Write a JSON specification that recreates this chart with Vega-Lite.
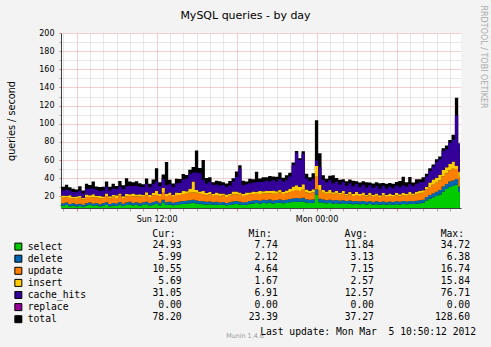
{
  "$schema": "https://vega.github.io/schema/vega-lite/v6.json",
  "autosize": {"type": "none"},
  "padding": {"left": 61, "top": 33, "right": 430, "bottom": 314},
  "background": "#f3f3f3",
  "config": {"font": "DejaVu Sans", "view": {"stroke": null}},
  "bounds": "flush",
  "spacing": 37,
  "title": {"text": "Munin 1.4.6", "orient": "bottom", "anchor": "start", "align": "center", "frame": "group", "dx": 184, "offset": -3, "baseline": "top", "font": "DejaVu Sans", "fontSize": 6.4, "fontWeight": "normal", "color": "#999999"},
  "datasets": {
    "q": [
      {"t":"2012-03-04T04:45:00Z","select":10.2,"delete":2.6,"update":6.0,"insert":1.9,"cache_hits":6.0,"total":31.5},
      {"t":"2012-03-04T05:00:00Z","select":9.6,"delete":2.5,"update":6.4,"insert":2.4,"cache_hits":5.6,"total":30.6},
      {"t":"2012-03-04T05:15:00Z","select":10.5,"delete":2.7,"update":5.8,"insert":1.8,"cache_hits":6.5,"total":32.8},
      {"t":"2012-03-04T05:30:00Z","select":9.1,"delete":2.4,"update":6.7,"insert":3.0,"cache_hits":5.4,"total":30.1},
      {"t":"2012-03-04T05:45:00Z","select":9.8,"delete":2.6,"update":5.6,"insert":1.7,"cache_hits":5.0,"total":28.4},
      {"t":"2012-03-04T06:00:00Z","select":8.9,"delete":2.3,"update":6.2,"insert":2.6,"cache_hits":4.6,"total":27.5},
      {"t":"2012-03-04T06:15:00Z","select":9.4,"delete":2.5,"update":6.6,"insert":2.0,"cache_hits":5.8,"total":31.2},
      {"t":"2012-03-04T06:30:00Z","select":8.6,"delete":2.2,"update":5.7,"insert":1.8,"cache_hits":4.9,"total":26.4},
      {"t":"2012-03-04T06:45:00Z","select":9.9,"delete":2.6,"update":6.9,"insert":2.8,"cache_hits":6.1,"total":33.8},
      {"t":"2012-03-04T07:00:00Z","select":10.4,"delete":2.8,"update":6.0,"insert":2.1,"cache_hits":7.0,"total":32.6},
      {"t":"2012-03-04T07:15:00Z","select":9.3,"delete":2.5,"update":7.1,"insert":3.4,"cache_hits":6.3,"total":36.5},
      {"t":"2012-03-04T07:30:00Z","select":10.1,"delete":2.7,"update":5.9,"insert":1.9,"cache_hits":6.8,"total":30.9},
      {"t":"2012-03-04T07:45:00Z","select":9.0,"delete":2.4,"update":6.4,"insert":2.5,"cache_hits":5.6,"total":30.4},
      {"t":"2012-03-04T08:00:00Z","select":9.7,"delete":2.6,"update":5.8,"insert":1.8,"cache_hits":6.6,"total":30.6},
      {"t":"2012-03-04T08:15:00Z","select":10.6,"delete":2.8,"update":6.9,"insert":2.9,"cache_hits":7.0,"total":36.4},
      {"t":"2012-03-04T08:30:00Z","select":9.2,"delete":2.5,"update":6.2,"insert":2.2,"cache_hits":6.3,"total":30.6},
      {"t":"2012-03-04T08:45:00Z","select":10.0,"delete":2.7,"update":6.8,"insert":1.9,"cache_hits":7.4,"total":34.0},
      {"t":"2012-03-04T09:00:00Z","select":9.5,"delete":2.6,"update":6.0,"insert":3.1,"cache_hits":6.9,"total":31.4},
      {"t":"2012-03-04T09:15:00Z","select":10.8,"delete":2.9,"update":7.2,"insert":2.3,"cache_hits":7.8,"total":37.0},
      {"t":"2012-03-04T09:30:00Z","select":9.3,"delete":2.5,"update":6.5,"insert":1.8,"cache_hits":8.1,"total":32.2},
      {"t":"2012-03-04T09:45:00Z","select":10.4,"delete":2.8,"update":6.8,"insert":2.7,"cache_hits":8.5,"total":40.0},
      {"t":"2012-03-04T10:00:00Z","select":11.0,"delete":3.0,"update":6.3,"insert":2.1,"cache_hits":9.0,"total":36.4},
      {"t":"2012-03-04T10:15:00Z","select":10.1,"delete":2.7,"update":7.2,"insert":3.2,"cache_hits":8.3,"total":35.5},
      {"t":"2012-03-04T10:30:00Z","select":10.7,"delete":2.9,"update":6.6,"insert":2.0,"cache_hits":9.4,"total":36.6},
      {"t":"2012-03-04T10:45:00Z","select":9.8,"delete":2.6,"update":7.4,"insert":2.6,"cache_hits":8.0,"total":34.4},
      {"t":"2012-03-04T11:00:00Z","select":10.5,"delete":2.8,"update":6.4,"insert":1.9,"cache_hits":8.8,"total":33.4},
      {"t":"2012-03-04T11:15:00Z","select":11.2,"delete":3.0,"update":7.0,"insert":3.3,"cache_hits":9.2,"total":39.7},
      {"t":"2012-03-04T11:30:00Z","select":10.0,"delete":2.7,"update":6.7,"insert":2.2,"cache_hits":8.4,"total":34.0},
      {"t":"2012-03-04T11:45:00Z","select":10.9,"delete":2.9,"update":7.5,"insert":2.8,"cache_hits":9.6,"total":38.7},
      {"t":"2012-03-04T12:00:00Z","select":11.5,"delete":3.1,"update":7.0,"insert":4.6,"cache_hits":10.2,"total":51.0},
      {"t":"2012-03-04T12:15:00Z","select":10.3,"delete":2.8,"update":7.3,"insert":2.1,"cache_hits":9.0,"total":35.5},
      {"t":"2012-03-04T12:30:00Z","select":12.8,"delete":3.4,"update":7.9,"insert":5.2,"cache_hits":9.5,"total":44.0},
      {"t":"2012-03-04T12:45:00Z","select":10.6,"delete":2.9,"update":6.8,"insert":2.4,"cache_hits":9.8,"total":58.0},
      {"t":"2012-03-04T13:00:00Z","select":11.0,"delete":3.0,"update":7.4,"insert":2.9,"cache_hits":9.1,"total":38.4},
      {"t":"2012-03-04T13:15:00Z","select":10.2,"delete":2.8,"update":6.6,"insert":2.0,"cache_hits":8.7,"total":34.3},
      {"t":"2012-03-04T13:30:00Z","select":10.8,"delete":2.9,"update":7.7,"insert":3.0,"cache_hits":9.9,"total":39.3},
      {"t":"2012-03-04T13:45:00Z","select":11.3,"delete":3.1,"update":7.2,"insert":2.5,"cache_hits":11.0,"total":39.1},
      {"t":"2012-03-04T14:00:00Z","select":11.6,"delete":3.2,"update":7.8,"insert":3.6,"cache_hits":12.5,"total":44.7},
      {"t":"2012-03-04T14:15:00Z","select":12.0,"delete":3.3,"update":7.5,"insert":2.8,"cache_hits":14.0,"total":43.6},
      {"t":"2012-03-04T14:30:00Z","select":12.4,"delete":3.4,"update":8.3,"insert":4.2,"cache_hits":16.0,"total":49.3},
      {"t":"2012-03-04T14:45:00Z","select":12.9,"delete":3.5,"update":8.0,"insert":12.0,"cache_hits":10.0,"total":52.4},
      {"t":"2012-03-04T15:00:00Z","select":12.1,"delete":3.3,"update":8.5,"insert":3.1,"cache_hits":19.3,"total":70.5},
      {"t":"2012-03-04T15:15:00Z","select":11.8,"delete":3.2,"update":7.8,"insert":2.7,"cache_hits":19.9,"total":51.4},
      {"t":"2012-03-04T15:30:00Z","select":11.4,"delete":3.1,"update":8.1,"insert":3.3,"cache_hits":12.5,"total":60.0},
      {"t":"2012-03-04T15:45:00Z","select":11.0,"delete":3.0,"update":7.3,"insert":2.4,"cache_hits":10.6,"total":40.3},
      {"t":"2012-03-04T16:00:00Z","select":11.3,"delete":3.1,"update":7.6,"insert":2.9,"cache_hits":11.2,"total":41.1},
      {"t":"2012-03-04T16:15:00Z","select":10.7,"delete":2.9,"update":7.0,"insert":2.1,"cache_hits":9.8,"total":35.5},
      {"t":"2012-03-04T16:30:00Z","select":11.0,"delete":3.0,"update":7.6,"insert":2.6,"cache_hits":9.0,"total":37.2},
      {"t":"2012-03-04T16:45:00Z","select":10.4,"delete":2.8,"update":6.8,"insert":3.1,"cache_hits":8.6,"total":36.7},
      {"t":"2012-03-04T17:00:00Z","select":10.9,"delete":3.0,"update":7.4,"insert":2.0,"cache_hits":9.3,"total":35.6},
      {"t":"2012-03-04T17:15:00Z","select":10.1,"delete":2.7,"update":6.6,"insert":2.7,"cache_hits":8.2,"total":34.3},
      {"t":"2012-03-04T17:30:00Z","select":10.6,"delete":2.9,"update":7.2,"insert":2.3,"cache_hits":8.9,"total":36.9},
      {"t":"2012-03-04T17:45:00Z","select":11.2,"delete":3.1,"update":7.8,"insert":3.4,"cache_hits":10.5,"total":40.0},
      {"t":"2012-03-04T18:00:00Z","select":11.7,"delete":3.2,"update":7.5,"insert":2.9,"cache_hits":16.0,"total":47.3},
      {"t":"2012-03-04T18:15:00Z","select":11.0,"delete":3.0,"update":7.9,"insert":2.5,"cache_hits":26.0,"total":54.4},
      {"t":"2012-03-04T18:30:00Z","select":10.5,"delete":2.8,"update":7.1,"insert":2.2,"cache_hits":9.6,"total":37.2},
      {"t":"2012-03-04T18:45:00Z","select":10.9,"delete":3.0,"update":7.5,"insert":3.0,"cache_hits":9.0,"total":36.4},
      {"t":"2012-03-04T19:00:00Z","select":11.8,"delete":3.2,"update":6.9,"insert":2.4,"cache_hits":10.2,"total":39.5},
      {"t":"2012-03-04T19:15:00Z","select":12.2,"delete":3.3,"update":7.2,"insert":2.8,"cache_hits":9.4,"total":38.9},
      {"t":"2012-03-04T19:30:00Z","select":12.6,"delete":3.4,"update":7.0,"insert":2.1,"cache_hits":10.8,"total":47.0},
      {"t":"2012-03-04T19:45:00Z","select":12.0,"delete":3.3,"update":7.4,"insert":3.2,"cache_hits":9.9,"total":39.8},
      {"t":"2012-03-04T20:00:00Z","select":12.8,"delete":3.5,"update":6.8,"insert":2.5,"cache_hits":10.4,"total":41.0},
      {"t":"2012-03-04T20:15:00Z","select":12.4,"delete":3.4,"update":7.3,"insert":2.9,"cache_hits":11.1,"total":41.1},
      {"t":"2012-03-04T20:30:00Z","select":13.0,"delete":3.6,"update":6.9,"insert":2.3,"cache_hits":10.6,"total":42.4},
      {"t":"2012-03-04T20:45:00Z","select":12.2,"delete":3.3,"update":7.5,"insert":3.5,"cache_hits":11.5,"total":42.0},
      {"t":"2012-03-04T21:00:00Z","select":12.6,"delete":3.4,"update":7.0,"insert":2.6,"cache_hits":10.9,"total":41.5},
      {"t":"2012-03-04T21:15:00Z","select":13.1,"delete":3.6,"update":7.6,"insert":2.9,"cache_hits":12.0,"total":46.2},
      {"t":"2012-03-04T21:30:00Z","select":12.3,"delete":3.4,"update":6.9,"insert":2.4,"cache_hits":11.4,"total":40.4},
      {"t":"2012-03-04T21:45:00Z","select":12.7,"delete":3.5,"update":7.2,"insert":3.0,"cache_hits":11.8,"total":43.2},
      {"t":"2012-03-04T22:00:00Z","select":13.4,"delete":3.7,"update":7.8,"insert":3.6,"cache_hits":13.5,"total":46.0},
      {"t":"2012-03-04T22:15:00Z","select":13.8,"delete":3.8,"update":8.4,"insert":4.8,"cache_hits":23.6,"total":57.4},
      {"t":"2012-03-04T22:30:00Z","select":14.2,"delete":3.9,"update":8.8,"insert":5.5,"cache_hits":35.6,"total":70.0},
      {"t":"2012-03-04T22:45:00Z","select":13.9,"delete":3.8,"update":8.2,"insert":4.4,"cache_hits":29.7,"total":62.0},
      {"t":"2012-03-04T23:00:00Z","select":14.4,"delete":4.0,"update":9.0,"insert":6.0,"cache_hits":33.6,"total":69.6},
      {"t":"2012-03-04T23:15:00Z","select":13.2,"delete":3.6,"update":7.6,"insert":3.2,"cache_hits":12.2,"total":44.8},
      {"t":"2012-03-04T23:30:00Z","select":12.7,"delete":3.5,"update":7.3,"insert":2.7,"cache_hits":10.8,"total":41.0},
      {"t":"2012-03-04T23:45:00Z","select":13.1,"delete":3.6,"update":7.8,"insert":3.4,"cache_hits":11.6,"total":45.5},
      {"t":"2012-03-05T00:00:00Z","select":22.0,"delete":5.5,"update":14.0,"insert":12.0,"cache_hits":6.0,"total":104.0},
      {"t":"2012-03-05T00:15:00Z","select":13.5,"delete":3.9,"update":9.6,"insert":5.5,"cache_hits":20.0,"total":67.5},
      {"t":"2012-03-05T00:30:00Z","select":13.0,"delete":3.6,"update":7.4,"insert":3.0,"cache_hits":11.4,"total":43.4},
      {"t":"2012-03-05T00:45:00Z","select":12.4,"delete":3.4,"update":7.0,"insert":2.5,"cache_hits":10.2,"total":39.5},
      {"t":"2012-03-05T01:00:00Z","select":12.8,"delete":3.5,"update":7.5,"insert":3.1,"cache_hits":10.9,"total":42.8},
      {"t":"2012-03-05T01:15:00Z","select":12.2,"delete":3.3,"update":6.8,"insert":2.2,"cache_hits":9.7,"total":43.2},
      {"t":"2012-03-05T01:30:00Z","select":12.5,"delete":3.4,"update":7.2,"insert":2.8,"cache_hits":10.4,"total":40.3},
      {"t":"2012-03-05T01:45:00Z","select":11.9,"delete":3.3,"update":6.5,"insert":2.4,"cache_hits":9.1,"total":38.2},
      {"t":"2012-03-05T02:00:00Z","select":12.3,"delete":3.4,"update":7.1,"insert":3.0,"cache_hits":10.0,"total":38.8},
      {"t":"2012-03-05T02:15:00Z","select":11.6,"delete":3.2,"update":6.2,"insert":2.0,"cache_hits":8.7,"total":36.7},
      {"t":"2012-03-05T02:30:00Z","select":12.1,"delete":3.3,"update":6.9,"insert":2.7,"cache_hits":9.5,"total":38.5},
      {"t":"2012-03-05T02:45:00Z","select":11.4,"delete":3.1,"update":6.0,"insert":2.3,"cache_hits":8.3,"total":37.1},
      {"t":"2012-03-05T03:00:00Z","select":11.8,"delete":3.2,"update":6.6,"insert":3.2,"cache_hits":9.0,"total":36.8},
      {"t":"2012-03-05T03:15:00Z","select":11.2,"delete":3.1,"update":6.1,"insert":2.1,"cache_hits":7.8,"total":35.3},
      {"t":"2012-03-05T03:30:00Z","select":11.7,"delete":3.2,"update":6.7,"insert":2.6,"cache_hits":8.6,"total":36.8},
      {"t":"2012-03-05T03:45:00Z","select":11.0,"delete":3.0,"update":5.8,"insert":2.0,"cache_hits":7.7,"total":35.5},
      {"t":"2012-03-05T04:00:00Z","select":11.5,"delete":3.2,"update":6.4,"insert":2.9,"cache_hits":8.3,"total":35.3},
      {"t":"2012-03-05T04:15:00Z","select":10.9,"delete":3.0,"update":5.7,"insert":2.2,"cache_hits":7.4,"total":34.2},
      {"t":"2012-03-05T04:30:00Z","select":11.4,"delete":3.1,"update":6.3,"insert":2.5,"cache_hits":8.2,"total":35.5},
      {"t":"2012-03-05T04:45:00Z","select":10.8,"delete":3.0,"update":5.6,"insert":1.9,"cache_hits":7.2,"total":34.5},
      {"t":"2012-03-05T05:00:00Z","select":11.3,"delete":3.1,"update":6.5,"insert":2.8,"cache_hits":8.0,"total":34.7},
      {"t":"2012-03-05T05:15:00Z","select":10.7,"delete":2.9,"update":5.9,"insert":2.1,"cache_hits":7.2,"total":33.8},
      {"t":"2012-03-05T05:30:00Z","select":11.2,"delete":3.1,"update":6.2,"insert":2.6,"cache_hits":7.7,"total":34.8},
      {"t":"2012-03-05T05:45:00Z","select":10.9,"delete":3.0,"update":5.8,"insert":2.0,"cache_hits":7.3,"total":34.0},
      {"t":"2012-03-05T06:00:00Z","select":11.4,"delete":3.1,"update":6.4,"insert":2.9,"cache_hits":8.1,"total":35.9},
      {"t":"2012-03-05T06:15:00Z","select":11.1,"delete":3.0,"update":6.0,"insert":2.3,"cache_hits":7.6,"total":37.0},
      {"t":"2012-03-05T06:30:00Z","select":11.6,"delete":3.2,"update":6.6,"insert":2.7,"cache_hits":8.3,"total":41.7},
      {"t":"2012-03-05T06:45:00Z","select":11.3,"delete":3.1,"update":6.2,"insert":2.2,"cache_hits":7.9,"total":35.7},
      {"t":"2012-03-05T07:00:00Z","select":11.8,"delete":3.2,"update":6.8,"insert":3.1,"cache_hits":8.5,"total":41.4},
      {"t":"2012-03-05T07:15:00Z","select":11.5,"delete":3.1,"update":6.3,"insert":2.4,"cache_hits":8.1,"total":35.4},
      {"t":"2012-03-05T07:30:00Z","select":12.0,"delete":3.3,"update":7.0,"insert":2.8,"cache_hits":8.8,"total":38.9},
      {"t":"2012-03-05T07:45:00Z","select":12.5,"delete":3.3,"update":7.3,"insert":3.0,"cache_hits":9.5,"total":39.0},
      {"t":"2012-03-05T08:00:00Z","select":13.0,"delete":3.4,"update":7.6,"insert":2.8,"cache_hits":9.0,"total":41.0},
      {"t":"2012-03-05T08:15:00Z","select":15.5,"delete":3.8,"update":8.2,"insert":3.2,"cache_hits":11.3,"total":45.0},
      {"t":"2012-03-05T08:30:00Z","select":17.5,"delete":4.0,"update":8.8,"insert":5.0,"cache_hits":12.7,"total":51.0},
      {"t":"2012-03-05T08:45:00Z","select":19.0,"delete":4.3,"update":9.5,"insert":5.8,"cache_hits":14.4,"total":55.0},
      {"t":"2012-03-05T09:00:00Z","select":20.5,"delete":4.6,"update":10.0,"insert":5.5,"cache_hits":17.4,"total":61.0},
      {"t":"2012-03-05T09:15:00Z","select":22.0,"delete":4.9,"update":10.6,"insert":6.2,"cache_hits":17.3,"total":64.0},
      {"t":"2012-03-05T09:30:00Z","select":25.5,"delete":5.3,"update":11.5,"insert":6.8,"cache_hits":20.9,"total":73.0},
      {"t":"2012-03-05T09:45:00Z","select":28.0,"delete":5.6,"update":12.0,"insert":6.5,"cache_hits":19.9,"total":76.0},
      {"t":"2012-03-05T10:00:00Z","select":30.5,"delete":5.8,"update":12.5,"insert":7.0,"cache_hits":23.2,"total":82.0},
      {"t":"2012-03-05T10:15:00Z","select":31.5,"delete":6.0,"update":13.0,"insert":8.0,"cache_hits":23.5,"total":88.0},
      {"t":"2012-03-05T10:30:00Z","select":33.0,"delete":6.2,"update":11.0,"insert":3.5,"cache_hits":55.3,"total":128.6},
      {"t":"2012-03-05T10:45:00Z","select":24.93,"delete":5.99,"update":10.55,"insert":5.69,"cache_hits":31.05,"total":78.2}
    ],
    "tbl": [
      {"name":"select","Cur":"24.93","Min":"7.74","Avg":"11.84","Max":"34.72"},
      {"name":"delete","Cur":"5.99","Min":"2.12","Avg":"3.13","Max":"6.38"},
      {"name":"update","Cur":"10.55","Min":"4.64","Avg":"7.15","Max":"16.74"},
      {"name":"insert","Cur":"5.69","Min":"1.67","Avg":"2.57","Max":"15.84"},
      {"name":"cache_hits","Cur":"31.05","Min":"6.91","Avg":"12.57","Max":"76.71"},
      {"name":"replace","Cur":"0.00","Min":"0.00","Avg":"0.00","Max":"0.00"},
      {"name":"total","Cur":"78.20","Min":"23.39","Avg":"37.27","Max":"128.60"}
    ]
  },
  "vconcat": [
    {
      "width": 400,
      "height": 175,
      "view": {"fill": "white", "stroke": null},
      "title": {"text": "MySQL queries - by day", "anchor": "middle", "frame": "group", "dx": -15.5, "offset": -0.6, "baseline": "alphabetic", "font": "DejaVu Sans", "fontSize": 11, "fontWeight": "normal", "color": "black"},
      "data": {"name": "q"},
      "encoding": {
        "x": {
          "field": "t", "type": "temporal",
          "scale": {"type": "utc", "domain": [{"year": 2012, "month": 3, "date": 4, "hours": 4, "minutes": 50, "utc": true}, {"year": 2012, "month": 3, "date": 5, "hours": 10, "minutes": 50, "utc": true}]},
          "axis": {
            "title": null,
            "tickCount": 30,
            "labelExpr": "utchours(datum.value) % 12 === 0 ? utcFormat(datum.value, '%a %H:%M') : ''",
            "labelOverlap": false, "labelFlush": false,
            "grid": true,
            "gridColor": {"condition": {"test": "utchours(datum.value) % 6 === 0", "value": "#e8a0a0"}, "value": "#d0d0d0"},
            "gridDash": [1, 1], "gridOpacity": 1, "gridWidth": 1,
            "ticks": true,
            "tickColor": {"condition": {"test": "utchours(datum.value) % 6 === 0", "value": "#d08080"}, "value": "#aaaaaa"},
            "tickSize": 3,
            "domain": true, "domainColor": "#404040", "domainWidth": 1,
            "labelFont": "DejaVu Sans", "labelFontSize": 8, "labelColor": "black", "labelPadding": 4
          }
        },
        "y": {
          "type": "quantitative",
          "scale": {"domain": [7.2, 200], "zero": false, "nice": false},
          "axis": {
            "values": [10, 20, 30, 40, 50, 60, 70, 80, 90, 100, 110, 120, 130, 140, 150, 160, 170, 180, 190, 200],
            "labelExpr": "datum.value % 20 === 0 ? datum.label : ''",
            "grid": true,
            "gridColor": {"condition": {"test": "datum.value % 20 === 0", "value": "#e8a0a0"}, "value": "#d0d0d0"},
            "gridDash": [1, 1], "gridOpacity": 1, "gridWidth": 1,
            "ticks": true, "tickSize": 2,
            "tickColor": {"condition": {"test": "datum.value % 20 === 0", "value": "#d08080"}, "value": "#aaaaaa"},
            "domain": true, "domainColor": "#404040", "domainWidth": 1,
            "labelFont": "DejaVu Sans", "labelFontSize": 8, "labelColor": "black", "labelPadding": 5,
            "title": "queries / second",
            "titleFont": "DejaVu Sans", "titleFontSize": 9.7, "titleFontWeight": "normal", "titleColor": "black",
            "titleX": -49.8, "titleY": 87.5, "titleAngle": -90, "titleAlign": "center", "titleBaseline": "middle"
          }
        }
      },
      "layer": [
        {
          "mark": {"type": "area", "interpolate": "step", "clip": true, "color": "black"},
          "encoding": {"y": {"field": "total"}}
        },
        {
          "transform": [
            {"fold": ["select", "delete", "update", "insert", "cache_hits"], "as": ["key", "value"]},
            {"lookup": "key", "from": {"data": {"values": [{"key": "select", "rank": 0}, {"key": "delete", "rank": 1}, {"key": "update", "rank": 2}, {"key": "insert", "rank": 3}, {"key": "cache_hits", "rank": 4}]}, "key": "key", "fields": ["rank"]}}
          ],
          "mark": {"type": "area", "interpolate": "step", "clip": true},
          "encoding": {
            "y": {"field": "value", "stack": "zero"},
            "color": {
              "field": "key", "type": "nominal",
              "scale": {"domain": ["select", "delete", "update", "insert", "cache_hits", "replace", "total"], "range": ["#00cc00", "#0066b3", "#ff8000", "#ffcc00", "#330099", "#990099", "#000000"]},
              "legend": {
                "orient": "none", "legendX": -47.5, "legendY": 208.75, "title": null,
                "symbolType": "square", "symbolSize": 49,
                "symbolStrokeColor": "black", "symbolStrokeWidth": 1, "symbolOpacity": 1,
                "labelFont": "DejaVu Sans Mono", "labelFontSize": 9.7, "labelColor": "black", "labelOffset": 4.5, "labelLimit": 300,
                "rowPadding": 0.1, "padding": 0
              }
            },
            "order": {"field": "rank", "type": "quantitative"}
          }
        },
        {
          "data": {"values": [{}]},
          "mark": {"type": "point", "shape": "triangle-up", "filled": true, "size": 30, "color": "#8b1a1a", "opacity": 1, "yOffset": -3},
          "encoding": {
            "x": {"datum": {"year": 2012, "month": 3, "date": 4, "hours": 4, "minutes": 50, "utc": true}},
            "y": {"datum": 200}
          }
        },
        {
          "data": {"values": [{}]},
          "mark": {"type": "point", "shape": "triangle-right", "filled": true, "size": 30, "color": "#8b1a1a", "opacity": 1, "xOffset": 3},
          "encoding": {
            "x": {"datum": {"year": 2012, "month": 3, "date": 5, "hours": 10, "minutes": 50, "utc": true}},
            "y": {"datum": 7.2}
          }
        }
      ]
    },
    {
      "width": 415,
      "height": 72,
      "data": {"name": "tbl"},
      "title": {"text": "Last update: Mon Mar\u00a0\u00a05 10:50:12 2012", "orient": "bottom", "anchor": "end", "frame": "group", "offset": 5, "baseline": "top", "font": "DejaVu Sans Mono", "fontSize": 9.7, "fontWeight": "normal", "color": "black"},
      "transform": [{"fold": ["Cur", "Min", "Avg", "Max"], "as": ["col", "val"]}],
      "mark": {"type": "text", "align": "right", "baseline": "middle", "font": "DejaVu Sans Mono", "fontSize": 9.7, "color": "black"},
      "encoding": {
        "x": {
          "field": "col", "type": "nominal",
          "scale": {"type": "point", "domain": ["Cur", "Min", "Avg", "Max"], "range": [120.7, 409], "padding": 0},
          "axis": {"orient": "top", "title": null, "labelExpr": "datum.label + ':'", "ticks": false, "tickSize": 0, "domain": false, "grid": false, "labelAlign": "right", "labelBaseline": "middle", "labelOffset": -6.5, "labelPadding": 12, "labelAngle": 0, "labelFont": "DejaVu Sans Mono", "labelFontSize": 9.7, "labelColor": "black"}
        },
        "y": {
          "field": "name", "type": "nominal",
          "scale": {"type": "point", "domain": ["select", "delete", "update", "insert", "cache_hits", "replace", "total"], "range": [0, 72], "padding": 0},
          "axis": {"orient": "right", "title": "RRDTOOL / TOBI OETIKER", "labels": false, "ticks": false, "domain": false, "grid": false, "titleAngle": 90, "titleX": 6, "titleY": -188.5, "titleAlign": "center", "titleBaseline": "middle", "titleFont": "DejaVu Sans", "titleFontSize": 8, "titleFontWeight": "normal", "titleColor": "#aaaaaa"}
        },
        "text": {"field": "val", "type": "nominal"}
      }
    }
  ]
}
